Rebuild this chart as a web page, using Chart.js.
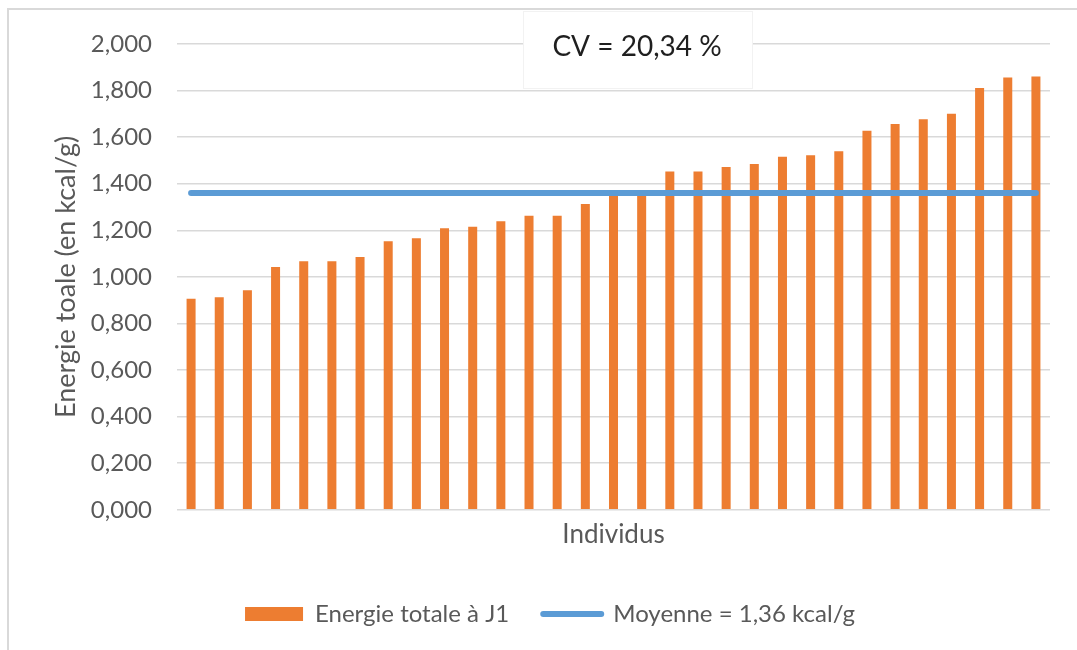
<!DOCTYPE html>
<html>
<head>
<meta charset="utf-8">
<script src="https://cdn.jsdelivr.net/npm/chart.js@4"></script>
<style>
    body { margin: 0; background: #fff; }
    #frame {
        position: absolute; left: 7px; top: 8px; width: 1080px; height: 660px;
        border-left: 2px solid #d9d9d9; border-top: 2px solid #d9d9d9;
    }
    #chart { position: absolute; left: 0; top: 0; }
</style>
</head>
<body>
<div id="frame"></div>
<canvas id="chart" width="1077" height="650"></canvas>
<script>
// Energie totale à J1, individus triés par ordre croissant (kcal/g)
const individus = Array.from({ length: 31 }, (_, i) => 'Individu ' + (i + 1));
const energieJ1 = [
    0.906, 0.913, 0.943, 1.042, 1.067, 1.067, 1.085, 1.153, 1.166, 1.209,
    1.215, 1.239, 1.263, 1.263, 1.313, 1.352, 1.355, 1.453, 1.453, 1.472,
    1.485, 1.516, 1.522, 1.539, 1.627, 1.657, 1.677, 1.701, 1.811, 1.856, 1.860
];
const moyenne = 1.36;
const yTicks = [0, 0.2, 0.4, 0.6, 0.8, 1.0, 1.2, 1.4, 1.6, 1.8, 2.0];

const FONT = 'Lato';
const GREY = '#595959';
const ORANGE = '#ED7D31';
const BLUE = '#5B9BD5';

function frNumber(v) {
    return v.toFixed(3).replace('.', ',');
}

// encadré "CV = 20,34 %"
const cvBox = {
    id: 'cvBox',
    afterDatasetsDraw(chart) {
        const ctx = chart.ctx;
        ctx.save();
        ctx.fillStyle = '#ffffff';
        ctx.fillRect(523, 11, 229, 77);
        ctx.strokeStyle = '#f2f2f2';
        ctx.lineWidth = 1;
        ctx.strokeRect(523.5, 11.5, 229, 77);
        ctx.fillStyle = '#1f1f1f';
        ctx.font = '28px ' + FONT;
        ctx.textAlign = 'center';
        ctx.textBaseline = 'middle';
        ctx.fillText('CV = 20,34 %', 637, 47);
        ctx.restore();
    }
};

new Chart(document.getElementById('chart'), {
    data: {
        labels: individus,
        datasets: [
            {
                type: 'bar',
                label: 'Energie totale à J1',
                data: energieJ1,
                backgroundColor: ORANGE,
                borderWidth: 0,
                barPercentage: 0.32,
                categoryPercentage: 1,
                order: 1
            },
            {
                type: 'line',
                label: 'Moyenne = 1,36 kcal/g',
                data: individus.map(() => moyenne),
                borderColor: BLUE,
                borderWidth: 6,
                borderCapStyle: 'round',
                pointRadius: 0,
                fill: false,
                order: 0
            }
        ]
    },
    options: {
        responsive: false,
        animation: false,
        layout: { padding: { left: 50, right: 27, top: 44, bottom: 14 } },
        scales: {
            x: {
                grid: { display: false },
                border: { display: false },
                ticks: { display: false },
                title: {
                    display: true,
                    text: 'Individus',
                    color: GREY,
                    font: { family: FONT, size: 26 },
                    padding: { top: 1, bottom: 18 }
                }
            },
            y: {
                min: 0,
                max: 2,
                afterBuildTicks(scale) {
                    scale.ticks = yTicks.map(v => ({ value: v }));
                },
                afterFit(scale) { scale.width = 127; },
                grid: { color: '#d9d9d9', lineWidth: 1.5, drawTicks: false },
                border: { display: false },
                ticks: {
                    color: GREY,
                    padding: 25,
                    font: { family: FONT, size: 24 },
                    callback: v => frNumber(v)
                },
                title: {
                    display: true,
                    text: 'Energie toale (en kcal/g)',
                    color: GREY,
                    font: { family: FONT, size: 27 },
                    padding: { top: 0, bottom: 0 }
                }
            }
        },
        plugins: {
            tooltip: { enabled: false },
            legend: {
                position: 'bottom',
                labels: {
                    color: GREY,
                    font: { family: FONT, size: 24 },
                    usePointStyle: true,
                    pointStyleWidth: 58,
                    boxHeight: 14,
                    padding: 34,
                    generateLabels(chart) {
                        return [
                            { text: 'Energie totale à J1', fillStyle: ORANGE, strokeStyle: ORANGE, lineWidth: 0, pointStyle: 'rect', datasetIndex: 0, fontColor: GREY },
                            { text: 'Moyenne = 1,36 kcal/g', fillStyle: BLUE, strokeStyle: BLUE, lineWidth: 6, lineCap: 'round', pointStyle: 'line', datasetIndex: 1, fontColor: GREY }
                        ];
                    }
                }
            }
        }
    },
    plugins: [cvBox]
});
</script>
</body>
</html>
